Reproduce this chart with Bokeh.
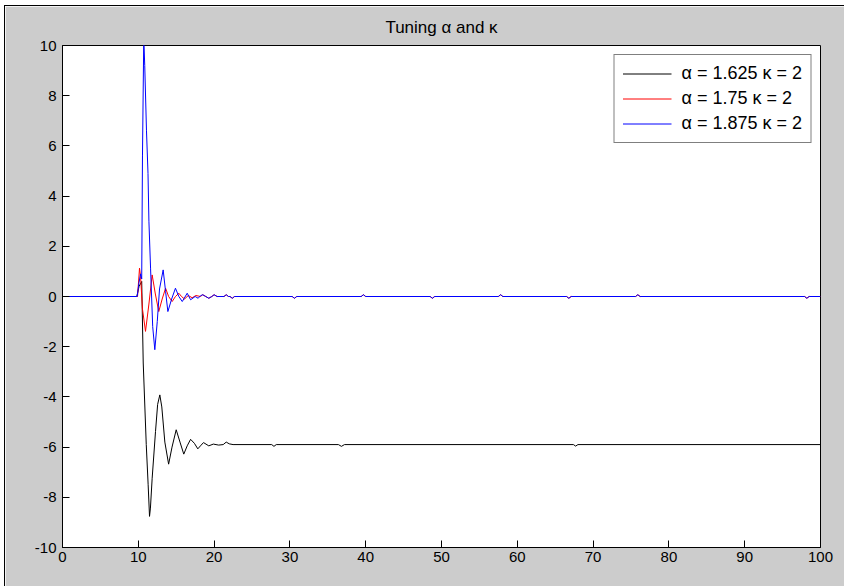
from bokeh.plotting import figure
from bokeh.models import ColumnDataSource, FixedTicker, Range1d
from bokeh.embed import file_html
from bokeh.resources import INLINE

# ---- data (vertices) ----
t_black = [0, 9.8, 10.1, 10.45, 10.65, 11.05, 11.3, 11.48, 11.6, 11.83, 12.27, 12.55, 12.84,
           13.1, 13.5, 14.0, 14.45, 15.0, 15.5, 16.0, 16.45, 16.9, 17.4, 17.85, 18.2, 18.6,
           19.3, 19.9, 20.6, 21.2, 21.6, 22.0, 22.5, 27.6, 27.9, 28.2, 36.4, 36.8, 37.2,
           67.4, 67.7, 68.0, 100]
v_black = [0, 0, 0.4, 0.6, -2.65, -5.9, -7.5, -8.76, -8.43, -7.24, -5.38, -4.3, -3.92,
           -4.4, -5.8, -6.68, -6.0, -5.31, -5.8, -6.28, -5.95, -5.69, -5.85, -6.07, -5.95, -5.82,
           -5.95, -5.88, -5.92, -5.9, -5.8, -5.87, -5.9, -5.9, -5.97, -5.9, -5.9, -5.97, -5.9,
           -5.9, -5.96, -5.9, -5.9]

t_red = [0, 9.9, 10.16, 10.3, 10.55, 10.95, 11.4, 11.83, 12.25, 12.7, 13.15, 13.6, 14.0,
         14.47, 14.9, 15.35, 15.7, 16.1, 16.6, 17.1, 17.6, 18.2, 18.5, 18.9, 19.3, 19.7,
         20.0, 20.4, 21.3, 21.6, 21.9, 22.1, 22.4, 22.7, 30.3, 30.6, 30.9, 39.4, 39.7, 40.0,
         48.5, 48.8, 49.1, 57.5, 57.8, 58.1, 66.5, 66.8, 67.1, 75.6, 75.9, 76.2, 97.9, 98.2,
         98.5, 100]
v_red = [0, 0, 1.13, 0.8, -0.5, -1.39, -0.3, 0.86, 0.1, -0.6, -0.1, 0.33, 0.0,
         -0.2, 0.0, 0.13, 0.0, -0.1, 0.04, -0.05, 0.04, 0.0, 0.07, 0.0, -0.07, 0.0,
         0.07, 0.0, 0.0, 0.07, 0.0, 0.0, -0.07, 0.0, 0.0, -0.07, 0.0, 0.0, 0.07, 0.0,
         0.0, -0.07, 0.0, 0.0, 0.07, 0.0, 0.0, -0.07, 0.0, 0.0, 0.07, 0.0, 0.0, -0.07,
         0.0, 0.0]

t_blue = [0, 9.85, 10.1, 10.3, 10.45, 10.55, 10.72, 10.85, 11.08, 11.28, 11.4, 11.62, 11.9,
          12.18, 12.5, 12.8, 13.28, 13.6, 13.9, 14.4, 14.9, 15.35, 15.8, 16.45, 16.9, 17.5,
          17.9, 18.2, 18.5, 18.9, 19.3, 19.7, 20.0, 20.4, 21.3, 21.6, 21.9, 22.1, 22.4, 22.7,
          30.3, 30.6, 30.9, 39.4, 39.7, 40.0, 48.5, 48.8, 49.1, 57.5, 57.8, 58.1, 66.5, 66.8,
          67.1, 75.6, 75.9, 76.2, 97.9, 98.2, 98.5, 100]
v_blue = [0, 0, 0.57, 0.9, 0.7, 5.6, 10.3, 9.2, 6.6, 4.9, 3.0, 1.1, -1.2,
          -2.12, -1.0, 0.3, 1.06, 0.2, -0.6, -0.1, 0.33, 0.0, -0.2, 0.13, -0.13, 0.0,
          -0.07, 0.03, 0.07, 0.0, -0.07, 0.0, 0.07, 0.0, 0.0, 0.07, 0.0, 0.0, -0.07, 0.0,
          0.0, -0.07, 0.0, 0.0, 0.07, 0.0, 0.0, -0.07, 0.0, 0.0, 0.07, 0.0, 0.0, -0.07,
          0.0, 0.0, 0.07, 0.0, 0.0, -0.07, 0.0, 0.0]

labels = ["\u03b1 = 1.625 \u03ba = 2", "\u03b1 = 1.75 \u03ba = 2", "\u03b1 = 1.875 \u03ba = 2"]
colors = ["black", "red", "blue"]
x_ticks = [0, 10, 20, 30, 40, 50, 60, 70, 80, 90, 100]
y_ticks = [-10, -8, -6, -4, -2, 0, 2, 4, 6, 8, 10]
title_text = "Tuning \u03b1 and \u03ba"

FONT = "Liberation Sans"
GRAY = "#cccccc"

p = figure(width=840, height=581, output_backend="svg", toolbar_location=None,
           x_range=Range1d(0, 100), y_range=Range1d(-10, 10),
           min_border_left=57, min_border_right=25, min_border_top=39, min_border_bottom=40,
           title=title_text)
p.margin = (5, 0, 0, 4)
p.styles = {"border-top": "1px solid black", "border-left": "1px solid black"}
p.border_fill_color = GRAY
p.background_fill_color = "white"
p.outline_line_color = "black"
p.outline_line_width = 1
p.grid.visible = False

p.title.text_font = FONT
p.title.text_font_size = "17px"
p.title.text_font_style = "normal"
p.title.align = "center"
p.title.text_color = "black"
p.title.standoff = 17

for ax in (p.xaxis[0], p.yaxis[0]):
    ax.major_label_text_font = FONT
    ax.major_label_text_font_size = "15px"
    ax.major_label_text_color = "black"
    ax.axis_line_color = "black"
    ax.major_tick_in = 7
    ax.major_tick_out = 0
    ax.minor_tick_line_color = None
    ax.major_tick_line_color = "black"
p.xaxis[0].ticker = FixedTicker(ticks=x_ticks)
p.yaxis[0].ticker = FixedTicker(ticks=y_ticks)
p.xaxis[0].major_label_overrides = {t: str(t) for t in x_ticks}
p.yaxis[0].major_label_overrides = {t: str(t) for t in y_ticks}
p.xaxis[0].major_label_standoff = 4
p.yaxis[0].major_label_standoff = 6

srcs = [ColumnDataSource(dict(t=t_black, v=v_black)),
        ColumnDataSource(dict(t=t_red, v=v_red)),
        ColumnDataSource(dict(t=t_blue, v=v_blue))]
for s, c, lab in zip(srcs, colors, labels):
    p.line("t", "v", source=s, line_color=c, line_width=1, legend_label=lab)

lg = p.legend[0]
lg.location = "top_right"
lg.margin = 9
lg.border_line_color = "black"
lg.border_line_width = 1
lg.background_fill_color = "white"
lg.background_fill_alpha = 1
lg.label_text_font = FONT
lg.label_text_font_size = "18px"
lg.label_text_color = "black"
lg.glyph_width = 49
lg.glyph_height = 15
lg.label_height = 19
lg.label_standoff = 10
lg.spacing = 4
lg.padding = 8

open("out.html", "w").write(file_html(p, INLINE))
